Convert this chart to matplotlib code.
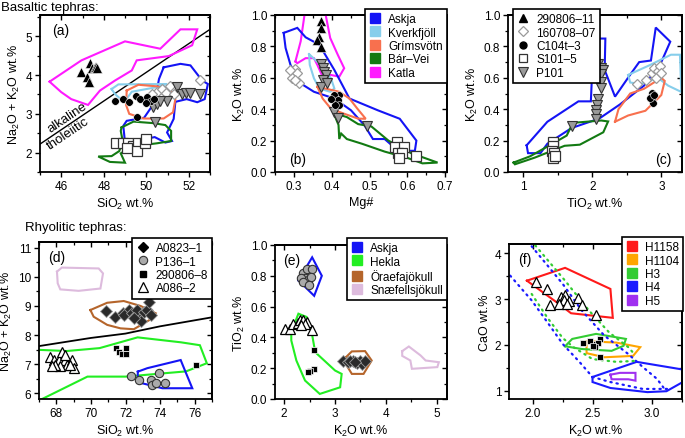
import matplotlib
matplotlib.use('Agg')
import matplotlib.pyplot as plt
from matplotlib.lines import Line2D
from matplotlib.ticker import MultipleLocator, FixedLocator

plt.rcParams['font.family'] = ['Liberation Sans', 'DejaVu Sans']
plt.rcParams['mathtext.fontset'] = 'custom'
plt.rcParams['mathtext.rm'] = 'Liberation Sans'
plt.rcParams['mathtext.it'] = 'Liberation Sans:italic'
plt.rcParams['mathtext.bf'] = 'Liberation Sans:bold'
plt.rcParams['font.size'] = 8.5

# ---------------- colours ----------------
C_ASKJA = '#1414F5'
C_KVERK = '#87CEEB'
C_GRIMS = '#F8704E'
C_BARVEI = '#127A12'
C_KATLA = '#FF1AFF'
C_HEKLA = '#22EE22'
C_ORAEFA = '#B5652B'
C_SNAEF = '#DDBBDD'
C_H1158 = '#FF1A1A'
C_H1104 = '#FFA500'
C_H3 = '#33CC33'
C_H4 = '#1A1AFF'
C_H5 = '#A030F0'

# ---------------- panel (a): SiO2 vs total alkali (basalts) ----------------
a_askja = [(50.82, 4.2), (51.61, 4.29), (52.08, 4.25), (52.63, 3.86), (52.9, 3.77), (52.75, 3.38),
           (52.4, 3.3), (51.9, 3.38), (51.37, 3.31), (51.29, 2.87), (50.98, 2.52), (51.21, 2.3),
           (50.9, 2.26), (50.4, 2.4), (49.0, 2.26), (48.92, 2.69), (49.08, 2.82), (49.9, 2.9),
           (50.4, 3.3), (50.6, 3.9)]
a_kverk = [(48.37, 3.64), (48.69, 3.76), (50.98, 3.77), (50.5, 3.69), (49.32, 3.57), (49.05, 3.37),
           (48.76, 3.4), (48.53, 3.51)]
a_grims = [(49.08, 3.6), (49.63, 3.75), (50.5, 3.71), (51.13, 3.63), (51.37, 3.38), (51.26, 3.04),
           (50.82, 2.88), (49.87, 2.88), (49.2, 3.0), (49.05, 3.23)]
a_barvei = [(48.84, 2.65), (49.4, 2.8), (50.34, 2.76), (50.9, 2.71), (51.17, 2.56), (51.17, 2.3),
            (50.5, 2.24), (49.32, 2.16), (48.8, 1.98), (49.0, 1.74), (48.29, 1.76), (47.74, 1.9),
            (48.37, 1.91), (48.73, 2.04), (48.89, 2.3), (48.8, 2.56)]
a_katla = [(45.45, 3.83), (46.95, 4.38), (49.0, 4.87), (50.66, 4.68), (51.61, 5.18), (52.4, 5.18),
           (52.16, 4.77), (51.06, 4.49), (49.55, 4.38), (49.32, 4.12), (48.53, 3.86), (47.82, 3.6),
           (47.26, 3.23), (46.47, 3.38), (46.0, 3.56)]
a_divider_x = [45, 53]
a_divider_y = [2.22, 5.18]

a_tri_x = [46.95, 47.22, 47.34, 47.47, 47.58, 47.31, 47.62, 47.7]
a_tri_y = [4.08, 3.95, 4.32, 4.19, 4.2, 3.82, 4.2, 4.19]
a_dia_x = [50.5, 50.74, 50.94, 51.13, 51.29, 52.55, 50.27]
a_dia_y = [3.56, 3.63, 3.54, 3.71, 3.51, 3.88, 3.5]
a_cir_x = [48.53, 48.92, 49.2, 49.52, 49.71, 50.03, 50.22, 50.38, 49.55, 50.0]
a_cir_y = [3.34, 3.38, 3.31, 3.45, 3.38, 3.43, 3.34, 3.38, 2.91, 3.28]
a_sq_x = [48.57, 48.92, 49.16, 49.36, 49.59, 49.55, 49.95, 50.0, 49.08]
a_sq_y = [2.24, 2.26, 2.24, 2.17, 2.26, 2.04, 2.26, 2.35, 2.13]
a_inv_x = [50.34, 50.5, 50.98, 51.45, 51.69, 51.89, 52.08, 52.52, 50.42, 50.66]
a_inv_y = [3.17, 3.25, 3.34, 3.69, 3.51, 3.54, 3.54, 3.51, 2.8, 3.34]

# ---------------- panel (b): Mg# vs K2O ----------------
b_askja = [(0.273, 0.886), (0.309, 0.918), (0.331, 0.858), (0.367, 0.811), (0.407, 0.65),
           (0.447, 0.468), (0.522, 0.393), (0.58, 0.339), (0.624, 0.2), (0.62, 0.135),
           (0.576, 0.135), (0.54, 0.21), (0.509, 0.21), (0.487, 0.296), (0.451, 0.393),
           (0.407, 0.468), (0.353, 0.511), (0.318, 0.564), (0.291, 0.682), (0.278, 0.79)]
b_kverk = [(0.34, 0.751), (0.371, 0.682), (0.398, 0.597), (0.407, 0.532), (0.396, 0.511),
           (0.367, 0.532), (0.353, 0.597), (0.342, 0.682)]
b_grims = [(0.362, 0.543), (0.42, 0.511), (0.447, 0.468), (0.468, 0.403), (0.49, 0.339),
           (0.47, 0.34), (0.433, 0.371), (0.398, 0.403), (0.376, 0.468)]
b_barvei = [(0.405, 0.375), (0.44, 0.35), (0.47, 0.305), (0.505, 0.29), (0.55, 0.2), (0.61, 0.12),
            (0.68, 0.06), (0.64, 0.055), (0.6, 0.09), (0.54, 0.13), (0.48, 0.18), (0.44, 0.21),
            (0.425, 0.245), (0.42, 0.21), (0.418, 0.3)]
b_katla = [(0.304, 0.704), (0.318, 0.833), (0.331, 1.05), (0.38, 1.05), (0.396, 0.854),
           (0.416, 0.747), (0.433, 0.661), (0.42, 0.607), (0.398, 0.618), (0.376, 0.607),
           (0.362, 0.682), (0.353, 0.725), (0.331, 0.725), (0.309, 0.693)]

b_tri_x = [0.373, 0.371, 0.366, 0.362, 0.371]
b_tri_y = [0.96, 0.92, 0.86, 0.84, 0.795]
b_dia_x = [0.302, 0.309, 0.296, 0.313, 0.304, 0.291]
b_dia_y = [0.657, 0.629, 0.597, 0.564, 0.586, 0.65]
b_cir_x = [0.42, 0.411, 0.407, 0.416, 0.42, 0.409, 0.398]
b_cir_y = [0.489, 0.468, 0.489, 0.457, 0.425, 0.429, 0.468]
b_sq_x = [0.574, 0.568, 0.59, 0.575, 0.585, 0.578, 0.623]
b_sq_y = [0.189, 0.157, 0.157, 0.12, 0.12, 0.086, 0.103]
b_inv_x = [0.371, 0.376, 0.38, 0.384, 0.378, 0.373, 0.387, 0.407, 0.416, 0.494]
b_inv_y = [0.687, 0.661, 0.639, 0.618, 0.586, 0.543, 0.564, 0.382, 0.343, 0.292]

# ---------------- panel (c): TiO2 vs K2O ----------------
c_askja = [(1.05, 0.17), (1.35, 0.32), (1.8, 0.45), (1.98, 0.45), (2.0, 0.65), (2.08, 0.85),
           (2.19, 0.85), (2.18, 0.65), (2.33, 0.48), (2.55, 0.62), (2.68, 0.7), (2.85, 0.71),
           (2.92, 0.92), (3.13, 0.83), (3.0, 0.7), (2.75, 0.55), (2.4, 0.43), (2.1, 0.34),
           (1.7, 0.28), (1.35, 0.18), (1.25, 0.12), (1.07, 0.12)]
c_kverk = [(2.52, 0.618), (2.83, 0.68), (3.14, 0.747), (3.27, 0.747), (3.29, 0.51), (3.1, 0.55),
           (2.95, 0.6), (2.7, 0.56), (2.55, 0.57)]
c_grims = [(2.33, 0.32), (2.38, 0.4), (2.55, 0.5), (2.75, 0.53), (3.0, 0.6), (3.05, 0.58),
           (3.0, 0.49), (2.77, 0.39), (2.52, 0.36)]
c_barvei = [(0.86, 0.06), (1.1, 0.1), (1.46, 0.189), (1.63, 0.232), (1.72, 0.313), (2.13, 0.328),
            (2.23, 0.322), (2.16, 0.253), (1.82, 0.174), (1.6, 0.167), (1.17, 0.092), (0.88, 0.049)]

c_dia_x = [2.65, 2.78, 2.86, 2.9, 2.95, 2.93, 2.98, 3.0]
c_dia_y = [0.558, 0.586, 0.629, 0.661, 0.644, 0.597, 0.672, 0.629]
c_cir_x = [2.86, 2.85, 2.87, 2.88, 2.84, 2.9]
c_cir_y = [0.506, 0.479, 0.457, 0.44, 0.47, 0.49]
c_sq_x = [1.43, 1.43, 1.42, 1.45, 1.43, 1.46]
c_sq_y = [0.189, 0.167, 0.135, 0.12, 0.086, 0.103]
c_inv_x = [2.09, 2.13, 2.16, 2.13, 2.12, 2.12, 2.09, 2.07, 2.06, 2.05, 2.06, 1.7]
c_inv_y = [0.687, 0.661, 0.65, 0.622, 0.575, 0.532, 0.468, 0.429, 0.393, 0.371, 0.339, 0.292]

# ---------------- panel (d): SiO2 vs total alkali (rhyolites) ----------------
d_askja = [(72.71, 6.74), (73.26, 6.86), (75.19, 7.14), (75.34, 6.92), (75.86, 6.17),
           (74.13, 6.17), (72.97, 6.34), (72.71, 6.55)]
d_hekla = [(67.0, 7.49), (68.6, 7.45), (70.5, 7.55), (72.7, 7.92), (75.2, 7.75), (76.3, 7.65),
           (76.7, 7.03), (75.5, 6.75), (72.0, 6.57), (69.8, 6.57), (66.5, 5.6)]
d_oraefa = [(69.97, 8.86), (70.94, 9.11), (71.9, 9.17), (72.87, 9.0), (73.74, 8.75), (73.45, 8.54),
            (72.48, 8.2), (71.71, 8.23), (70.94, 8.35), (70.16, 8.63)]
d_snaef = [(68.04, 10.18), (68.32, 10.32), (70.45, 10.29), (70.7, 10.12), (70.55, 9.6),
           (69.29, 9.52), (68.23, 9.57), (68.08, 9.78)]
d_divider_x = [67, 70, 72, 74, 77]
d_divider_y = [7.62, 7.9, 8.05, 8.3, 8.61]

d_dia_x = [70.9, 71.42, 71.86, 72.19, 71.94, 72.39, 72.58, 72.68, 72.87, 73.06, 73.26, 73.35, 73.45, 72.48]
d_dia_y = [8.84, 8.61, 8.77, 8.86, 8.69, 8.75, 8.69, 8.86, 8.49, 8.8, 8.86, 9.15, 8.69, 8.57]
d_cir_x = [72.33, 72.77, 73.45, 73.55, 73.74, 73.93, 74.26]
d_cir_y = [6.6, 6.46, 6.46, 6.29, 6.34, 6.71, 6.34]
d_sq_x = [71.45, 71.6, 71.8, 72.05, 72.05, 76.05]
d_sq_y = [7.55, 7.4, 7.35, 7.55, 7.35, 6.97]
d_tri_x = [67.65, 67.85, 68.14, 68.33, 68.52, 68.62, 68.91, 69.0, 68.23, 67.94, 67.75, 68.52, 68.81]
d_tri_y = [7.26, 7.14, 7.14, 7.43, 7.14, 6.97, 7.14, 6.86, 6.92, 6.97, 6.92, 7.31, 6.97]

# ---------------- panel (e): K2O vs TiO2 (rhyolites) ----------------
e_askja = [(2.28, 0.77), (2.55, 0.92), (2.74, 0.8), (2.59, 0.67)]
e_hekla = [(2.14, 0.435), (2.28, 0.554), (2.44, 0.533), (2.54, 0.435), (2.61, 0.304), (3.0, 0.185),
           (3.13, 0.163), (3.1, 0.076), (2.7, 0.033), (2.41, 0.12), (2.24, 0.25), (2.14, 0.38)]
e_oraefa = [(3.2, 0.267), (3.33, 0.309), (3.59, 0.311), (3.72, 0.25), (3.56, 0.163), (3.33, 0.163),
            (3.23, 0.217)]
e_snaef = [(4.32, 0.311), (4.45, 0.341), (4.68, 0.283), (4.78, 0.25), (5.04, 0.239), (5.01, 0.207),
           (4.51, 0.196), (4.48, 0.25), (4.32, 0.28)]

e_cir_x = [2.38, 2.44, 2.55, 2.41, 2.47, 2.53, 2.33, 2.38, 2.49]
e_cir_y = [0.815, 0.841, 0.841, 0.783, 0.772, 0.793, 0.783, 0.761, 0.739]
e_tri_x = [2.01, 2.11, 2.18, 2.28, 2.31, 2.38, 2.44, 2.41, 2.33, 2.54]
e_tri_y = [0.457, 0.457, 0.489, 0.493, 0.511, 0.511, 0.5, 0.489, 0.483, 0.446]
e_sq_x = [2.59, 2.59, 2.51, 2.47]
e_sq_y = [0.315, 0.196, 0.185, 0.174]
e_dia_x = [3.16, 3.26, 3.36, 3.43, 3.49, 3.53, 3.59, 3.3, 3.4]
e_dia_y = [0.25, 0.239, 0.25, 0.233, 0.25, 0.228, 0.25, 0.245, 0.24]

# ---------------- panel (f): K2O vs CaO (Hekla) ----------------
f_h1158 = [(1.95, 3.4), (2.27, 3.68), (2.65, 3.22), (2.67, 2.59), (2.32, 2.69), (2.22, 2.89)]
f_h1104 = [(2.45, 2.08), (2.7, 2.05), (2.9, 1.95), (2.84, 1.76), (2.6, 1.73), (2.45, 1.82)]
f_h3 = [(2.27, 1.97), (2.33, 2.13), (2.53, 2.24), (2.78, 2.13), (2.76, 1.98), (2.66, 1.87), (2.41, 1.91)]
f_h4 = [(2.5, 1.3), (2.87, 1.63), (3.4, 1.4), (3.12, 0.99), (2.96, 0.97), (2.65, 1.06), (2.5, 1.19)]
f_h5 = [(2.65, 1.35), (2.73, 1.39), (2.86, 1.39), (2.86, 1.22), (2.8, 1.25), (2.66, 1.25)]
f_blue_up_x = [1.99, 2.25, 2.41, 2.6, 2.8, 2.92, 3.04, 3.1]
f_blue_up_y = [4.15, 3.33, 2.75, 2.2, 1.8, 1.52, 1.26, 1.05]
f_green_up_x = [2.02, 2.27, 2.47, 2.64, 2.8, 2.85]
f_green_up_y = [4.17, 3.4, 2.75, 2.27, 1.95, 1.8]
f_blue_lo_x = [1.81, 1.99, 2.12, 2.25, 2.39, 2.5, 2.65, 2.92, 3.15]
f_blue_lo_y = [3.51, 2.97, 2.5, 2.02, 1.63, 1.3, 1.19, 1.04, 1.04]
f_green_lo_x = [1.99, 2.12, 2.25, 2.34, 2.5, 2.7, 2.85]
f_green_lo_y = [3.11, 2.6, 2.15, 1.95, 1.69, 1.63, 1.65]

f_tri_x = [2.03, 2.12, 2.14, 2.24, 2.27, 2.26, 2.3, 2.38, 2.41, 2.53, 2.22, 2.29]
f_tri_y = [3.37, 3.22, 2.88, 3.05, 3.08, 2.97, 2.95, 3.02, 2.88, 2.66, 2.89, 2.89]
f_sq_x = [2.42, 2.48, 2.53, 2.56, 2.55, 2.52, 2.56, 2.5]
f_sq_y = [2.04, 2.08, 2.02, 2.13, 2.04, 1.95, 1.74, 1.97]

# ---------------- legends ----------------
basalt_fields = ['Askja', 'Kverkfjöll', 'Grímsvötn', 'Bár\u2013Vei', 'Katla']
basalt_colors = [C_ASKJA, C_KVERK, C_GRIMS, C_BARVEI, C_KATLA]
basalt_samples = ['290806\u201311', '160708\u201307', 'C104t\u20133', 'S101\u20135', 'P101']
rhyo_samples = ['A0823\u20131', 'P136\u20131', '290806\u20138', 'A086\u20132']
rhyo_fields = ['Askja', 'Hekla', 'Öraefajökull', 'Snæfellsjökull']
rhyo_colors = [C_ASKJA, C_HEKLA, C_ORAEFA, C_SNAEF]
hekla_fields = ['H1158', 'H1104', 'H3', 'H4', 'H5']
hekla_colors = [C_H1158, C_H1104, C_H3, C_H4, C_H5]

# ---------------- marker styles ----------------
M_TRI_B = dict(marker='^', mfc='black', mec='white', mew=0.4, ms=6.5)
M_DIA_W = dict(marker='D', mfc='white', mec='#9a9a9a', mew=0.9, ms=5.5)
M_CIR_B = dict(marker='o', mfc='black', mec='white', mew=0.4, ms=5.5)
M_SQ_W = dict(marker='s', mfc='white', mec='#333333', mew=0.9, ms=6.5)
M_INV_G = dict(marker='v', mfc='#9a9a9a', mec='#333333', mew=0.8, ms=6.5)
M_DIA_K = dict(marker='D', mfc='#2a2a2a', mec='#9a9a9a', mew=0.6, ms=6)
M_CIR_G = dict(marker='o', mfc='#aaaaaa', mec='#333333', mew=0.8, ms=6)
M_SQ_K = dict(marker='s', mfc='black', mec='white', mew=0.5, ms=5)
M_TRI_W = dict(marker='^', mfc='white', mec='black', mew=0.9, ms=7)

W, H = 685, 439
fig = plt.figure(figsize=(W / 100, H / 100), dpi=100)


def add_ax(l, r, t, b):
    return fig.add_axes([l / W, 1 - b / H, (r - l) / W, (b - t) / H])


def style(ax, xlim, ylim, xticks, yticks, xminor, yminor, xlabel, ylabel, fmt_x=None, fmt_y=None):
    ax.set_xlim(*xlim)
    ax.set_ylim(*ylim)
    ax.set_xticks(xticks)
    ax.set_yticks(yticks)
    ax.xaxis.set_minor_locator(MultipleLocator(xminor))
    ax.yaxis.set_minor_locator(MultipleLocator(yminor))
    if fmt_x:
        ax.set_xticklabels([fmt_x.format(v) for v in xticks])
    if fmt_y:
        ax.set_yticklabels([fmt_y.format(v) for v in yticks])
    ax.tick_params(which='major', direction='out', length=3.5, width=1.0, labelsize=8.5, pad=2)
    ax.tick_params(which='minor', direction='out', length=2.2, width=0.9)
    for s in ax.spines.values():
        s.set_linewidth(1.3)
    secy = ax.secondary_yaxis('right')
    secy.yaxis.set_major_locator(FixedLocator(yticks))
    secy.yaxis.set_minor_locator(MultipleLocator(yminor))
    secy.tick_params(which='major', direction='in', length=3.5, width=1.0, labelright=False)
    secy.tick_params(which='minor', direction='in', length=2.2, width=0.9)
    secy.spines['right'].set_linewidth(1.3)
    secx = ax.secondary_xaxis('top')
    secx.xaxis.set_major_locator(FixedLocator(xticks))
    secx.xaxis.set_minor_locator(MultipleLocator(xminor))
    secx.tick_params(which='major', direction='in', length=3.5, width=1.0, labeltop=False)
    secx.tick_params(which='minor', direction='in', length=2.2, width=0.9)
    secx.spines['top'].set_linewidth(1.3)
    ax.set_xlabel(xlabel, fontsize=9, labelpad=3)
    ax.set_ylabel(ylabel, fontsize=9, labelpad=3)


def poly(ax, pts, color, lw=1.5, ls='-'):
    xs = [p[0] for p in pts] + [pts[0][0]]
    ys = [p[1] for p in pts] + [pts[0][1]]
    ax.plot(xs, ys, color=color, lw=lw, ls=ls, solid_joinstyle='miter', zorder=2)


def pts(ax, x, y, st):
    ax.plot(x, y, ls='none', zorder=3, **st)


def make_legend(ax, handles, names, anchor, loc):
    leg = ax.legend(handles, names, loc=loc, bbox_to_anchor=anchor, bbox_transform=fig.transFigure,
                    fontsize=8.5, frameon=True, fancybox=False, framealpha=1, edgecolor='black',
                    handlelength=1.0, handletextpad=0.6, borderpad=0.35, labelspacing=0.12,
                    borderaxespad=0)
    leg.get_frame().set_linewidth(1.2)
    leg.set_zorder(10)
    return leg


def field_legend(ax, names, colors, anchor, loc):
    handles = [Line2D([], [], ls='none', marker='s', ms=7.5, mfc=c, mec=c) for c in colors]
    return make_legend(ax, handles, names, anchor, loc)


def sample_legend(ax, names, styles, anchor, loc):
    handles = [Line2D([], [], ls='none', **s) for s in styles]
    return make_legend(ax, handles, names, anchor, loc)


def dotted(ax, x, y, color):
    ax.plot(x, y, color=color, lw=1.6, ls=(0, (0.6, 2.2)), dash_capstyle='round', zorder=2)


NAK = 'Na$_2$O + K$_2$O wt.%'
SIO2 = 'SiO$_2$ wt.%'
K2O = 'K$_2$O wt.%'
TIO2 = 'TiO$_2$ wt.%'

# ---------- (a) ----------
ax = add_ax(40, 210, 16, 173)
style(ax, (45, 53), (1.5, 5.55), [46, 48, 50, 52], [2, 3, 4, 5], 1, 0.5, SIO2, NAK)
ax.plot(a_divider_x, a_divider_y, color='black', lw=1.0, zorder=2)
for p, c in zip([a_katla, a_askja, a_barvei, a_kverk, a_grims],
                [C_KATLA, C_ASKJA, C_BARVEI, C_KVERK, C_GRIMS]):
    poly(ax, p, c)
pts(ax, a_sq_x, a_sq_y, M_SQ_W)
pts(ax, a_tri_x, a_tri_y, M_TRI_B)
pts(ax, a_dia_x, a_dia_y, M_DIA_W)
pts(ax, a_inv_x, a_inv_y, M_INV_G)
pts(ax, a_cir_x, a_cir_y, M_CIR_B)
ax.text(46.27, 2.93, 'alkaline', rotation=34, fontsize=9.5, ha='center', va='center', rotation_mode='anchor')
ax.text(46.3, 2.5, 'tholeiitic', rotation=34, fontsize=9.5, ha='center', va='center', rotation_mode='anchor')
ax.text(0.07, 0.95, '(a)', transform=ax.transAxes, fontsize=10, ha='left', va='top')
fig.text(1 / W, 1 - 8 / H, 'Basaltic tephras:', fontsize=9.5, ha='left', va='center')

# ---------- (b) ----------
ax = add_ax(275, 447, 16, 173)
style(ax, (0.25, 0.705), (0, 1.0), [0.3, 0.4, 0.5, 0.6, 0.7], [0, 0.2, 0.4, 0.6, 0.8, 1.0],
      0.05, 0.1, 'Mg#', K2O, fmt_x='{:.1f}', fmt_y='{:.1f}')
for p, c in zip([b_katla, b_askja, b_barvei, b_kverk, b_grims],
                [C_KATLA, C_ASKJA, C_BARVEI, C_KVERK, C_GRIMS]):
    poly(ax, p, c)
pts(ax, b_sq_x, b_sq_y, M_SQ_W)
pts(ax, b_tri_x, b_tri_y, M_TRI_B)
pts(ax, b_dia_x, b_dia_y, M_DIA_W)
pts(ax, b_inv_x, b_inv_y, M_INV_G)
pts(ax, b_cir_x, b_cir_y, M_CIR_B)
ax.text(0.08, 0.04, '(b)', transform=ax.transAxes, fontsize=10, ha='left', va='bottom')
field_legend(ax, basalt_fields, basalt_colors, (447 / W, 1 - 10 / H), 'upper right')

# ---------- (c) ----------
ax = add_ax(508, 682, 16, 173)
style(ax, (0.78, 3.3), (0, 1.0), [1, 2, 3], [0, 0.2, 0.4, 0.6, 0.8, 1.0], 0.5, 0.1, TIO2, K2O,
      fmt_x='{:d}', fmt_y='{:.1f}')
for p, c in zip([c_askja, c_barvei, c_kverk, c_grims], [C_ASKJA, C_BARVEI, C_KVERK, C_GRIMS]):
    poly(ax, p, c)
pts(ax, c_sq_x, c_sq_y, M_SQ_W)
pts(ax, c_dia_x, c_dia_y, M_DIA_W)
pts(ax, c_inv_x, c_inv_y, M_INV_G)
pts(ax, c_cir_x, c_cir_y, M_CIR_B)
ax.text(0.94, 0.04, '(c)', transform=ax.transAxes, fontsize=10, ha='right', va='bottom')
sample_legend(ax, basalt_samples,
              [dict(marker='^', mfc='black', mec='black', ms=6),
               dict(marker='D', mfc='white', mec='#9a9a9a', mew=0.9, ms=5),
               dict(marker='o', mfc='black', mec='black', ms=5),
               dict(marker='s', mfc='white', mec='#333333', mew=0.9, ms=6),
               dict(marker='v', mfc='#9a9a9a', mec='#333333', mew=0.8, ms=6.5)],
              (513 / W, 1 - 10 / H), 'upper left')

# ---------- (d) ----------
ax = add_ax(39, 212, 243, 400)
style(ax, (67, 77), (5.8, 11.2), [68, 70, 72, 74, 76], [6, 7, 8, 9, 10, 11], 1, 0.5, SIO2, NAK)
ax.plot(d_divider_x, d_divider_y, color='black', lw=1.3, zorder=2)
for p, c in zip([d_snaef, d_oraefa, d_hekla, d_askja], [C_SNAEF, C_ORAEFA, C_HEKLA, C_ASKJA]):
    poly(ax, p, c)
pts(ax, d_dia_x, d_dia_y, M_DIA_K)
pts(ax, d_cir_x, d_cir_y, M_CIR_G)
pts(ax, d_sq_x, d_sq_y, M_SQ_K)
pts(ax, d_tri_x, d_tri_y, M_TRI_W)
ax.text(0.05, 0.95, '(d)', transform=ax.transAxes, fontsize=10, ha='left', va='top')
sample_legend(ax, rhyo_samples,
              [dict(marker='D', mfc='black', mec='black', ms=5.5),
               dict(marker='o', mfc='#aaaaaa', mec='#333333', mew=0.8, ms=6),
               dict(marker='s', mfc='black', mec='black', ms=5),
               dict(marker='^', mfc='white', mec='black', mew=0.9, ms=6.5)],
              (212 / W, 1 - 239 / H), 'upper right')
fig.text(25 / W, 1 - 228 / H, 'Rhyolitic tephras:', fontsize=9.5, ha='left', va='center')

# ---------- (e) ----------
ax = add_ax(275, 447, 246, 400)
style(ax, (1.82, 5.2), (0, 1.0), [2, 3, 4, 5], [0, 0.2, 0.4, 0.6, 0.8, 1.0], 0.5, 0.1, K2O, TIO2,
      fmt_x='{:d}', fmt_y='{:.1f}')
for p, c in zip([e_askja, e_hekla, e_oraefa, e_snaef], [C_ASKJA, C_HEKLA, C_ORAEFA, C_SNAEF]):
    poly(ax, p, c)
pts(ax, e_cir_x, e_cir_y, M_CIR_G)
pts(ax, e_tri_x, e_tri_y, M_TRI_W)
pts(ax, e_sq_x, e_sq_y, M_SQ_K)
pts(ax, e_dia_x, e_dia_y, M_DIA_K)
ax.text(0.05, 0.95, '(e)', transform=ax.transAxes, fontsize=10, ha='left', va='top')
field_legend(ax, rhyo_fields, rhyo_colors, (447 / W, 1 - 239 / H), 'upper right')

# ---------- (f) ----------
ax = add_ax(509, 682, 245, 400)
style(ax, (1.8, 3.25), (0.82, 4.2), [2.0, 2.5, 3.0], [1, 2, 3, 4], 0.25, 0.5, K2O, 'CaO wt.%',
      fmt_x='{:.1f}', fmt_y='{:d}')
for p, c in zip([f_h1158, f_h1104, f_h3, f_h4, f_h5], [C_H1158, C_H1104, C_H3, C_H4, C_H5]):
    poly(ax, p, c)
dotted(ax, f_blue_up_x, f_blue_up_y, C_H4)
dotted(ax, f_blue_lo_x, f_blue_lo_y, C_H4)
dotted(ax, f_green_up_x, f_green_up_y, C_H3)
dotted(ax, f_green_lo_x, f_green_lo_y, C_H3)
pts(ax, f_tri_x, f_tri_y, M_TRI_W)
pts(ax, f_sq_x, f_sq_y, M_SQ_K)
ax.text(0.05, 0.95, '(f)', transform=ax.transAxes, fontsize=10, ha='left', va='top')
field_legend(ax, hekla_fields, hekla_colors, (683 / W, 1 - 238 / H), 'upper right')

fig.savefig('out.png', dpi=100)
